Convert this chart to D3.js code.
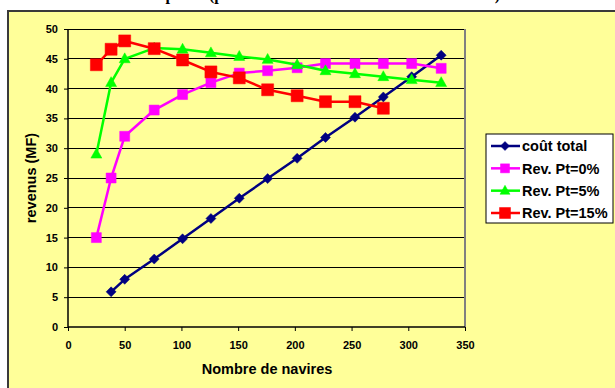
<!DOCTYPE html>
<html>
<head>
<meta charset="utf-8">
<script src="https://cdn.jsdelivr.net/npm/d3@7"></script>
<style>
  html, body { margin: 0; padding: 0; background: #ffffff; }
  svg { display: block; }
</style>
</head>
<body>
<svg id="chart" width="615" height="388"></svg>
<script>
// ---- data ----
const titleText = "Revenus et coût total de la flotte de pêche (pour différents taux de taxe à la tonne Pt)";
const xTitle = "Nombre de navires";
const yTitle = "revenus (MF)";
const navires = [25, 38, 50, 76, 101, 126, 151, 176, 202, 227, 253, 278, 303, 329];
const seriesNames = ["coût total", "Rev. Pt=0%", "Rev. Pt=5%", "Rev. Pt=15%"];
const coutTotal = [5.9, 8.0, 11.4, 14.8, 18.2, 21.6, 24.9, 28.3, 31.8, 35.2, 38.6, 42.0, 45.6]; // navires[1..13]
const revPt0  = [15, 25, 32, 36.4, 39, 41, 42.6, 43, 43.5, 44.2, 44.2, 44.2, 44.2, 43.4];  // navires[0..13]
const revPt5  = [29, 41, 45, 46.8, 46.6, 46, 45.4, 44.9, 44, 43, 42.5, 42, 41.5, 41];     // navires[0..13]
const revPt15 = [44, 46.6, 48, 46.7, 44.8, 42.8, 41.8, 39.8, 38.8, 37.8, 37.8, 36.7];     // navires[0..11]
const xTicks = [0, 50, 100, 150, 200, 250, 300, 350];
const yTicks = [0, 5, 10, 15, 20, 25, 30, 35, 40, 45, 50];

// ---- setup ----
const svg = d3.select("#chart");
const FONT = "'Liberation Sans', Arial, Helvetica, sans-serif";

// title (clipped at top in the reference)
const title = svg.append("text")
  .attr("x", 0).attr("y", 0)
  .attr("font-family", "'Liberation Serif', 'Times New Roman', serif")
  .attr("font-weight", "bold").attr("font-size", 18)
  .attr("fill", "#000")
  .text(titleText);
// fit title so that its parenthesis spans the same region as the reference
(function fitTitle() {
  const node = title.node();
  const iOpen = titleText.indexOf("(");
  const iClose = titleText.indexOf(")");
  const w = node.getStartPositionOfChar(iClose).x - node.getStartPositionOfChar(iOpen).x;
  const fs = 18 * 286 / w;
  title.attr("font-size", fs);
  const pos = node.getStartPositionOfChar(iOpen).x;
  title.attr("x", 209 - pos);
})();

// chart area
svg.append("rect")
  .attr("x", 8).attr("y", 11).attr("width", 640).attr("height", 400)
  .attr("fill", "#FFFF99").attr("stroke", "#3a3a3a").attr("stroke-width", 2);

const x = d3.scaleLinear().domain([0, 350]).range([68, 465]);
const y = d3.scaleLinear().domain([0, 50]).range([327, 29]);

// gridlines
svg.append("g").selectAll("line").data(yTicks.filter(d => d > 0)).join("line")
  .attr("x1", x(0)).attr("x2", x(350))
  .attr("y1", d => y(d)).attr("y2", d => y(d))
  .attr("stroke", "#000").attr("stroke-width", 1)
  .attr("shape-rendering", "crispEdges");

// plot area right border
svg.append("line")
  .attr("x1", x(350)).attr("x2", x(350)).attr("y1", y(50)).attr("y2", y(0))
  .attr("stroke", "#808080").attr("stroke-width", 2);

// axes
const xAxis = svg.append("g").attr("transform", `translate(0,${y(0)})`)
  .call(d3.axisBottom(x).tickValues(xTicks).tickSize(4).tickPadding(10).tickFormat(d3.format("d")));
const yAxis = svg.append("g").attr("transform", `translate(${x(0)},0)`)
  .call(d3.axisLeft(y).tickValues(yTicks).tickSize(4).tickPadding(6).tickFormat(d3.format("d")));
[xAxis, yAxis].forEach(g => {
  g.select(".domain").attr("stroke", "#000").attr("stroke-width", 1.5);
  g.selectAll(".tick line").attr("stroke", "#000").attr("stroke-width", 1);
  g.selectAll(".tick text").attr("font-family", FONT).attr("font-weight", "bold")
    .attr("font-size", 11).attr("fill", "#000");
});
xAxis.select(".domain").attr("d", `M${x(0)},0H${x(350)}`);
yAxis.select(".domain").attr("d", `M0,${y(0)}V${y(50)}`);

// axis titles
svg.append("text")
  .attr("x", 267).attr("y", 374).attr("text-anchor", "middle")
  .attr("font-family", FONT).attr("font-weight", "bold").attr("font-size", 14.5)
  .attr("fill", "#000").text(xTitle);
svg.append("text")
  .attr("transform", "translate(36,178) rotate(-90)").attr("text-anchor", "middle")
  .attr("font-family", FONT).attr("font-weight", "bold").attr("font-size", 14.5)
  .attr("fill", "#000").text(yTitle);

// series
const series = [
  { name: seriesNames[0], xs: navires.slice(1, 14), ys: coutTotal, color: "#000080", shape: d3.symbolDiamond2, size: 9 },
  { name: seriesNames[1], xs: navires.slice(0, 14), ys: revPt0,    color: "#FF00FF", shape: d3.symbolSquare2, size: 10 },
  { name: seriesNames[2], xs: navires.slice(0, 14), ys: revPt5,    color: "#00FF00", shape: d3.symbolTriangle, size: 11 },
  { name: seriesNames[3], xs: navires.slice(0, 12), ys: revPt15,   color: "#FF0000", shape: d3.symbolSquare2, size: 12 }
];

function symbolPath(s, size) {
  // square-ish sizing: size = approx width in px
  if (s.shape === d3.symbolTriangle) {
    const h = size * 0.9, w = size;
    return `M0,${-h*0.6}L${w/2},${h*0.4}L${-w/2},${h*0.4}Z`;
  }
  if (s.shape === d3.symbolDiamond2) {
    const r = size / 2 + 0.5;
    return `M0,${-r}L${r},0L0,${r}L${-r},0Z`;
  }
  const r = size / 2;
  return `M${-r},${-r}H${r}V${r}H${-r}Z`;
}

const line = d3.line().x(d => x(d[0])).y(d => y(d[1]));
series.forEach(s => {
  const pts = s.xs.map((xv, i) => [xv, s.ys[i]]);
  const g = svg.append("g");
  g.append("path").attr("d", line(pts)).attr("fill", "none")
    .attr("stroke", s.color).attr("stroke-width", 2.5).attr("stroke-linejoin", "round");
  g.selectAll("path.m").data(pts).join("path").attr("class", "m")
    .attr("transform", d => `translate(${x(d[0])},${y(d[1])})`)
    .attr("d", symbolPath(s, s.size))
    .attr("fill", s.color).attr("stroke", s.color).attr("stroke-width", 0.5);
});

// legend
const lg = svg.append("g");
lg.append("rect").attr("x", 486).attr("y", 134).attr("width", 127).attr("height", 89)
  .attr("fill", "#fff").attr("stroke", "#000").attr("stroke-width", 1);
const rowY = d3.scalePoint().domain(seriesNames).range([146, 213]);
series.forEach(s => {
  const cy = rowY(s.name);
  lg.append("line").attr("x1", 491).attr("x2", 520).attr("y1", cy).attr("y2", cy)
    .attr("stroke", s.color).attr("stroke-width", 2.5);
  lg.append("path").attr("transform", `translate(505,${cy})`)
    .attr("d", symbolPath(s, s.size === 12 ? 11 : s.size - 1))
    .attr("fill", s.color).attr("stroke", s.color).attr("stroke-width", 0.5);
  lg.append("text").attr("x", 522).attr("y", cy).attr("dy", "0.36em")
    .attr("font-family", FONT).attr("font-weight", "bold").attr("font-size", 14.5)
    .attr("fill", "#000").text(s.name);
});
</script>
</body>
</html>
